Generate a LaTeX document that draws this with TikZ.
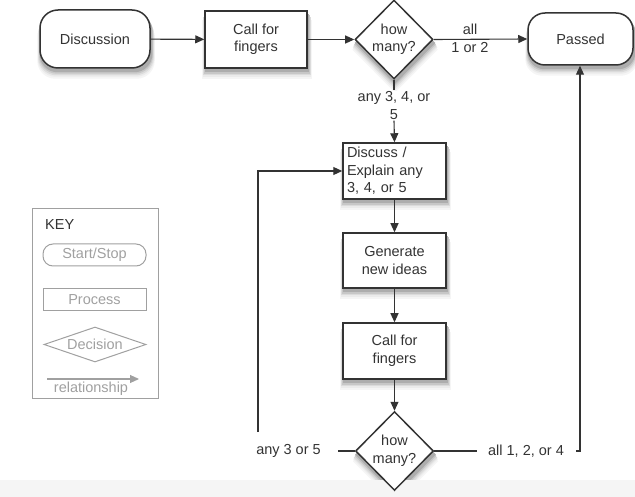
\documentclass[tikz,border=0pt]{standalone}
\usepackage{fontspec}
\setmainfont{Liberation Sans}
\usetikzlibrary{shapes.geometric,arrows.meta,calc}
\pgfdeclarelayer{background}
\pgfsetlayers{background,main}
\definecolor{ink}{HTML}{333333}
\definecolor{keygray}{HTML}{A0A0A0}
\tikzset{
  txt/.style={font=\fontsize{14.5}{17.5}\selectfont, text=ink},
  startstop/.style={txt, draw=ink, line width=1.5pt, fill=white, rounded corners=18pt, inner sep=0pt},
  procbox/.style={txt, draw=ink, line width=1.5pt, fill=white, inner sep=0pt, align=center},
  decision/.style={txt, diamond, draw=ink, line width=1.5pt, fill=white, inner sep=0pt, align=center, minimum width=78pt, minimum height=79pt},
  conn/.style={draw=ink, line width=1.1pt},
  arrow/.style={conn, -{Triangle[length=9pt,width=8pt]}},
  lbl/.style={txt, align=center, inner sep=0pt},
  keyshape/.style={draw=keygray, line width=1pt, text=keygray, font=\fontsize{14.5}{17.5}\selectfont, inner sep=0pt},
}
\newcommand\boxshade[2]{%
  \foreach \c/\o/\s in {4/10/3,8/8/2.5,14/6.5/2,22/5/1.2,32/3.5/0.6}{%
    \fill[black!\c, rounded corners=#2] ($(#1.south west)+(-\s+1,\o)$) rectangle ($(#1.north east)+(\s+1,\o)$);}}
\newcommand\diashade[1]{%
  \foreach \c/\o/\s in {4/10/3,8/8/2.5,14/6.5/2,22/5/1.2,32/3.5/0.6}{%
    \fill[black!\c] ($(#1.north)+(1,\o)$) -- ($(#1.east)+(1+\s,\o)$) -- ($(#1.south)+(1,\o+\s)$) -- ($(#1.west)+(1-\s,\o)$) -- cycle;}}
\begin{document}
\begin{tikzpicture}[x=1pt,y=-1pt]
\useasboundingbox (0,0) rectangle (635,497);
\fill[black!4] (0,480) rectangle (635,497);

% main flow
\node[startstop, minimum width=110pt, minimum height=58pt] (disc) at (95,39) {Discussion};
\node[procbox, minimum width=102pt, minimum height=57pt] (call1) at (256,39.5) {Call for\\fingers};
\node[decision] (d1) at (394,39.5) {how\\many?};
\node[startstop, minimum width=105pt, minimum height=52pt, rounded corners=17pt] (pass) at (580.5,39) {Passed};

\node[lbl] (all12) at (470,38.5) {all\\1 or 2};
\node[lbl, fill=white, inner sep=1pt] (any345) at (394,105.5) {any 3, 4, or\\5};

\node[procbox, minimum width=103pt, minimum height=56pt, align=left, text width=95pt] (discuss) at (394.5,171) {Discuss /\\Explain any\\3, 4, or 5};
\node[procbox, minimum width=103pt, minimum height=55pt] (gen) at (394.5,260.5) {Generate\\new ideas};
\node[procbox, minimum width=103pt, minimum height=56pt] (call2) at (394.5,351) {Call for\\fingers};
\node[decision] (d2) at (394.5,451) {how\\many?};

\node[lbl] (any35) at (288.5,451) {any 3 or 5};
\node[lbl] (all124) at (526,451) {all 1, 2, or 4};
\coordinate (back) at (258,432);

% shadows
\begin{pgfonlayer}{background}
  \boxshade{disc}{18pt}
  \boxshade{pass}{17pt}
  \boxshade{call1}{0pt}
  \boxshade{discuss}{0pt}
  \boxshade{gen}{0pt}
  \boxshade{call2}{0pt}
  \diashade{d1}
  \diashade{d2}
\end{pgfonlayer}

% connectors
\draw[arrow] (disc) -- (call1);
\draw[arrow] (call1) -- (d1);
\draw[arrow] (d1.east) -- (pass.west);
\draw[conn] (d1.south) -- (any345.north);
\draw[arrow] (any345.south) -- (discuss.north);
\draw[arrow] (discuss) -- (gen);
\draw[arrow] (gen) -- (call2);
\draw[arrow] (call2) -- (d2.north);
\draw[conn] (d2.west) -- ([xshift=17pt]any35.east);
\draw[arrow] (back) |- (discuss.west);
\draw[conn] (d2.east) -- ([xshift=-11pt]all124.west);
\draw[arrow] ([xshift=12pt]all124.east) -| (pass.south -| 580,0);

% key
\node[draw=keygray, line width=1pt, minimum width=126pt, minimum height=189pt, inner sep=0pt] (key) at (95,303.5) {};
\node[txt, anchor=west, inner sep=0pt, text=black!80] (keyt) at (45,225) {KEY};
\node[keyshape, rounded corners=10pt, minimum width=103pt, minimum height=22pt] (kss) at (94.5,255) {Start/Stop};
\node[keyshape, minimum width=103pt, minimum height=22pt] (kpr) at (94.5,300) {Process};
\node[keyshape, diamond, aspect=2.9, minimum width=102pt, minimum height=35pt] (kde) at (95,344.5) {Decision};
\coordinate (ka) at (47,379);
\coordinate (kb) at (139,379);
\draw[keygray, line width=1.1pt, -{Triangle[length=9pt,width=8pt]}] (ka) -- (kb);
\node[keyshape, draw=none, fill=none] (krel) at (91,389) {relationship};
\end{tikzpicture}
\end{document}
